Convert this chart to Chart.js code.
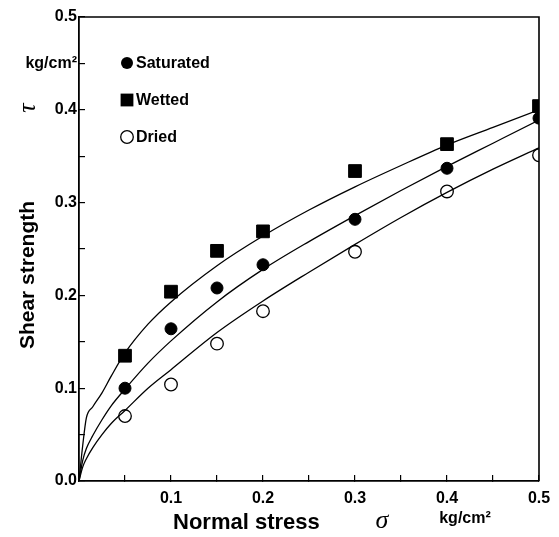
<!DOCTYPE html>
<html>
<head>
<meta charset="utf-8">
<script src="https://cdn.jsdelivr.net/npm/chart.js@4.4.1/dist/chart.umd.min.js"></script>
<style>
  body { margin: 0; background: #fff; }
  #wrap { width: 559px; height: 537px; }
</style>
</head>
<body>
<div id="wrap"><canvas id="shearChart" width="559" height="537"></canvas></div>
<script>
// normal stress of the tests (kg/cm2)
const stressLevels = [0.05, 0.1, 0.15, 0.2, 0.3, 0.4, 0.5];
// measured shear strength (kg/cm2)
const saturated = [0.100, 0.164, 0.208, 0.233, 0.282, 0.337, 0.391];
const wetted = [0.135, 0.204, 0.248, 0.269, 0.334, 0.363, 0.404];
const dried = [0.070, 0.104, 0.148, 0.183, 0.247, 0.312, 0.351];

// fitted curves
const curveStress = [0, 0.004, 0.008, 0.015, 0.025, 0.035, 0.05, 0.075, 0.1, 0.15, 0.2, 0.25, 0.3, 0.35, 0.4, 0.45, 0.5];
const wettedCurve = [0, 0.038, 0.068, 0.080, 0.095, 0.113, 0.138, 0.169, 0.193, 0.232, 0.264, 0.292, 0.317, 0.340, 0.362, 0.381, 0.400];
const saturatedCurve = [0, 0.022, 0.035, 0.049, 0.066, 0.081, 0.099, 0.127, 0.151, 0.193, 0.228, 0.258, 0.286, 0.313, 0.339, 0.364, 0.389];
const driedCurve = [0, 0.015, 0.024, 0.036, 0.050, 0.062, 0.076, 0.100, 0.120, 0.160, 0.194, 0.225, 0.255, 0.284, 0.311, 0.336, 0.359];

const seriesNames = ['Saturated', 'Wetted', 'Dried'];
const xTickLabels = ['', '', '0.1', '', '0.2', '', '0.3', '', '0.4', '', '0.5'];
const yTickLabels = ['0.0', '', '0.1', '', '0.2', '', '0.3', '', '0.4', 'kg/cm²', '0.5'];

const boldFont = '"Liberation Sans", Arial, Helvetica, sans-serif';

function pairs(xs, ys) {
    return xs.map((x, i) => ({ x: x, y: ys[i] }));
}

function curve(ys) {
    return {
        type: 'line',
        data: pairs(curveStress, ys),
        borderColor: '#000',
        borderWidth: 1.3,
        pointRadius: 0,
        fill: false,
        cubicInterpolationMode: 'monotone',
        order: 5
    };
}

// marker drawing for the legend inside the plot
function drawMarker(ctx, kind, x, y) {
    ctx.save();
    ctx.fillStyle = '#000';
    ctx.strokeStyle = '#000';
    ctx.lineWidth = 1.3;
    ctx.beginPath();
    if (kind === 'rect') {
        ctx.rect(x - 6.4, y - 6.4, 12.8, 12.8);
        ctx.fill();
    } else if (kind === 'open') {
        ctx.arc(x, y, 6.3, 0, Math.PI * 2);
        ctx.stroke();
    } else {
        ctx.arc(x, y, 6, 0, Math.PI * 2);
        ctx.fill();
    }
    ctx.restore();
}

const insideLegend = {
    id: 'insideLegend',
    afterDatasetsDraw(chart) {
        const ctx = chart.ctx;
        const area = chart.chartArea;
        const kinds = ['circle', 'rect', 'open'];
        seriesNames.forEach((name, i) => {
            const x = area.left + 48;
            const y = area.top + 46 + i * 37;
            drawMarker(ctx, kinds[i], x, y);
            ctx.save();
            ctx.fillStyle = '#000';
            ctx.font = 'bold 16px ' + boldFont;
            ctx.textBaseline = 'middle';
            ctx.textAlign = 'left';
            ctx.fillText(name, x + 9, y + 1);
            ctx.restore();
        });
    }
};

// top and right edges of the box + axis titles
const frameAndTitles = {
    id: 'frameAndTitles',
    afterDraw(chart) {
        const ctx = chart.ctx;
        const a = chart.chartArea;
        ctx.save();
        ctx.strokeStyle = '#000';
        ctx.lineWidth = 1.6;
        ctx.beginPath();
        ctx.moveTo(a.left, a.top);
        ctx.lineTo(a.right, a.top);
        ctx.lineTo(a.right, a.bottom);
        ctx.stroke();

        ctx.fillStyle = '#000';
        ctx.textBaseline = 'middle';

        // x title
        ctx.textAlign = 'left';
        ctx.font = 'bold 22px ' + boldFont;
        ctx.fillText('Normal stress', 173, 523);
        ctx.textAlign = 'center';
        ctx.font = 'italic 26px "Liberation Serif", "DejaVu Serif", serif';
        ctx.fillText('σ', 382, 521);
        ctx.font = 'bold 16px ' + boldFont;
        ctx.fillText('kg/cm²', 465, 519);

        // y title
        ctx.translate(28, 0);
        ctx.rotate(-Math.PI / 2);
        ctx.font = 'bold 21px ' + boldFont;
        ctx.fillText('Shear strength', -275, 0);
        ctx.font = 'italic 26px "Liberation Serif", "DejaVu Serif", serif';
        ctx.fillText('τ', -108, 0);
        ctx.restore();
    }
};

const tickFont = { family: boldFont, size: 16, weight: 'bold' };

const ctx = document.getElementById('shearChart').getContext('2d');
const shearChart = new Chart(ctx, {
    type: 'scatter',
    data: {
        datasets: [
            {
                label: seriesNames[0],
                data: pairs(stressLevels, saturated),
                pointStyle: 'circle',
                pointRadius: 6,
                backgroundColor: '#000',
                borderColor: '#000',
                borderWidth: 1,
                order: 1
            },
            {
                label: seriesNames[1],
                data: pairs(stressLevels, wetted),
                pointStyle: 'rect',
                pointRadius: 9,
                backgroundColor: '#000',
                borderColor: '#000',
                borderWidth: 1,
                order: 1
            },
            {
                label: seriesNames[2],
                data: pairs(stressLevels, dried),
                pointStyle: 'circle',
                pointRadius: 6.3,
                backgroundColor: 'rgba(0,0,0,0)',
                borderColor: '#000',
                borderWidth: 1.3,
                order: 1
            },
            curve(wettedCurve),
            curve(saturatedCurve),
            curve(driedCurve)
        ]
    },
    options: {
        responsive: false,
        animation: false,
        layout: { padding: { left: 0, top: 17, right: 20, bottom: 0 } },
        plugins: {
            legend: { display: false },
            tooltip: { enabled: false }
        },
        scales: {
            x: {
                type: 'linear',
                min: 0,
                max: 0.5,
                ticks: {
                    stepSize: 0.05,
                    autoSkip: false,
                    maxRotation: 0,
                    padding: 14,
                    color: '#000',
                    font: tickFont,
                    callback: (v, i) => xTickLabels[i]
                },
                grid: { drawOnChartArea: false, tickLength: -6, color: '#000', lineWidth: 1.2 },
                border: { color: '#000', width: 1.8 },
                afterFit(scale) {
                    scale.height = 56;
                    scale.paddingLeft = 0;
                    scale.paddingRight = 0;
                }
            },
            y: {
                type: 'linear',
                min: 0,
                max: 0.5,
                ticks: {
                    stepSize: 0.05,
                    autoSkip: false,
                    padding: 8,
                    color: '#000',
                    font: tickFont,
                    callback: (v, i) => yTickLabels[i]
                },
                grid: { drawOnChartArea: false, tickLength: -6, color: '#000', lineWidth: 1.2 },
                border: { color: '#000', width: 1.8 },
                afterFit(scale) {
                    scale.width = 79;
                    scale.paddingTop = 0;
                    scale.paddingBottom = 0;
                }
            }
        }
    },
    plugins: [insideLegend, frameAndTitles]
});
</script>
</body>
</html>
